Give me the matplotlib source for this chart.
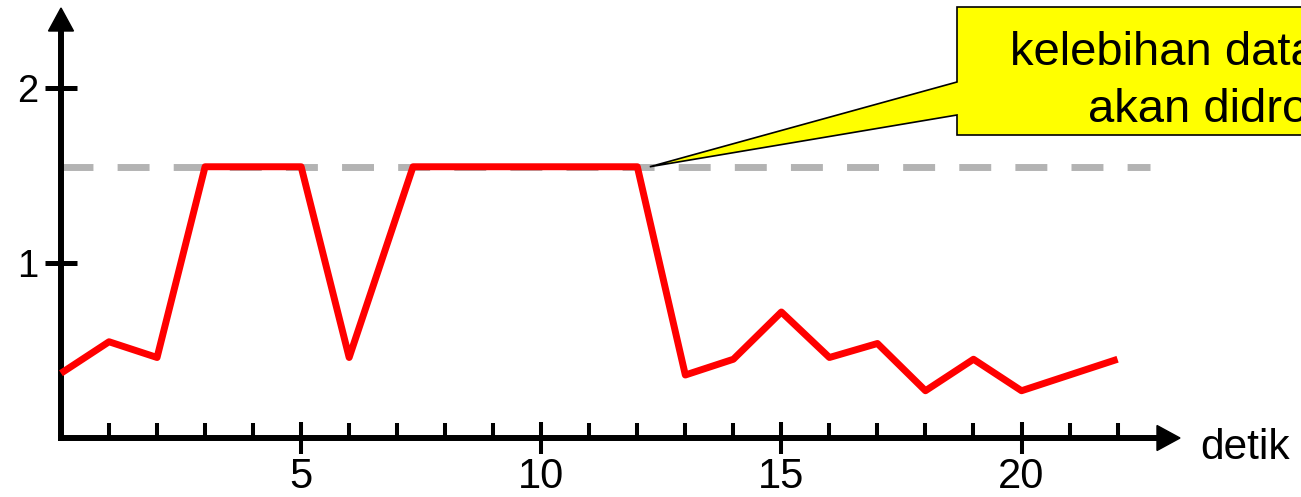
import matplotlib
matplotlib.use("Agg")
import matplotlib.pyplot as plt
from matplotlib.patches import Polygon

plt.rcParams['font.family'] = ['Liberation Sans', 'DejaVu Sans']

# traffic rate per second
detik = [0, 1, 2, 3, 5, 6, 7.33, 12, 13, 14, 15, 16, 17, 18, 19, 20, 22]
laju = [0.37, 0.55, 0.46, 1.55, 1.55, 0.46, 1.55, 1.55,
        0.36, 0.45, 0.72, 0.46, 0.54, 0.27, 0.45, 0.27, 0.45]
batas = 1.55                      # rate limit (dashed line)
batas_akhir = 22.67               # right end of the dashed line
x_major = [5, 10, 15, 20]
x_minor = [i for i in range(1, 23) if i % 5 != 0]
y_major = [1, 2]
label_x = "detik"
callout = ["kelebihan data", "akan didrop"]

W, H = 1301, 497
fig = plt.figure(figsize=(W / 100, H / 100), dpi=100)
x0_px, x1_px, y0_px, y1_px = 61, 1180, 438, 8
ax = fig.add_axes([x0_px / W, (H - y0_px) / H,
                   (x1_px - x0_px) / W, (y0_px - y1_px) / H])
px_x = 23.3 / (x1_px - x0_px)     # data units per pixel, horizontal
px_y = 1 / 175                    # data units per pixel, vertical
ax.set_xlim(0, 23.3)
ax.set_ylim(0, (y0_px - y1_px) * px_y)

# axes with arrow heads
for s in ['top', 'right']:
    ax.spines[s].set_visible(False)
head_len, head_half = 23, 12.5
xtip, ytip = ax.get_xlim()[1], ax.get_ylim()[1]
ax.spines['bottom'].set_bounds(0, xtip - head_len * px_x)
ax.spines['left'].set_bounds(0, ytip - head_len * px_y)
for s in ['bottom', 'left']:
    ax.spines[s].set_linewidth(4.3)
    ax.spines[s].set_color('black')
    ax.spines[s].set_capstyle('projecting')
ax.add_patch(Polygon([(xtip - head_len * px_x, head_half * px_y),
                      (xtip, 0),
                      (xtip - head_len * px_x, -head_half * px_y)],
                     closed=True, color='black', clip_on=False, zorder=5))
ax.add_patch(Polygon([(-head_half * px_x, ytip - head_len * px_y),
                      (0, ytip),
                      (head_half * px_x, ytip - head_len * px_y)],
                     closed=True, color='black', clip_on=False, zorder=5))

# ticks
ax.set_xticks(x_major)
ax.set_xticklabels([str(v) for v in x_major])
ax.set_xticks(x_minor, minor=True)
ax.tick_params(axis='x', which='major', direction='inout', length=23,
               width=2.9, labelsize=30, pad=2)
ax.tick_params(axis='x', which='minor', direction='in', length=11,
               width=2.9)
ax.set_yticks(y_major)
ax.set_yticklabels([str(v) for v in y_major])
ax.tick_params(axis='y', which='major', direction='inout', length=23,
               width=3.6, labelsize=27.5, pad=5)

# limit line and traffic
ax.plot([0, batas_akhir], [batas, batas], color='#b3b3b3', lw=5,
        dashes=(4.6, 3.48), solid_capstyle='butt', dash_capstyle='butt',
        zorder=2, clip_on=False)
ax.plot(detik, laju, color='#ff0000', lw=5, solid_joinstyle='round',
        solid_capstyle='butt', zorder=3, clip_on=False)

ax.text(xtip + (1200 - 1180) * px_x, -21 * px_y, label_x, fontsize=30.5,
        ha='left', va='baseline')

# speech-bubble callout pointing at the end of the limited segment
def to_data(px, py):
    return ((px - x0_px) * px_x, (y0_px - py) * px_y)

bubble = [to_data(957, 7), to_data(1450, 7), to_data(1450, 135),
          to_data(957, 135), to_data(957, 115),
          (12.26, batas),
          to_data(957, 82)]
ax.add_patch(Polygon(bubble, closed=True, facecolor='#ffff00',
                     edgecolor='black', lw=1.2, clip_on=False, zorder=6))
tx, ty = to_data(1010, 65)
ax.text(tx, ty, callout[0], fontsize=34, ha='left', va='baseline',
        zorder=7, clip_on=False)
tx, ty = to_data(1088, 122)
ax.text(tx, ty, callout[1], fontsize=34, ha='left', va='baseline',
        zorder=7, clip_on=False)

fig.savefig('out.png', dpi=100)
